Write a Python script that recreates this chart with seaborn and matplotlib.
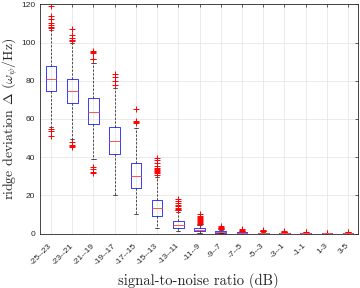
import numpy as np
import pandas as pd
import matplotlib
matplotlib.use("Agg")
import matplotlib.pyplot as plt
import seaborn as sns

# SNR bins (x categories)
snr_labels = ['-25--23', '-23--21', '-21--19', '-19--17', '-17--15', '-15--13',
              '-13--11', '-11--9', '-9--7', '-7--5', '-5--3', '-3--1',
              '-1-1', '1-3', '3-5']

# box summary
q1 = [74.6, 68.2, 57.4, 41.7, 23.7, 9.2, 2.8, 1.4, 0.5, 0.25, 0.15, 0.08, 0.05, 0.03, 0.02]
med = [81.1, 74.7, 63.7, 48.5, 30.3, 13.2, 4.4, 2.0, 0.8, 0.45, 0.3, 0.18, 0.12, 0.08, 0.06]
q3 = [87.7, 81.0, 70.9, 56.0, 37.2, 17.6, 6.4, 2.7, 1.2, 0.7, 0.5, 0.3, 0.2, 0.14, 0.1]
whisk_lo = [56.0, 49.5, 38.9, 20.3, 10.5, 2.8, 1.2, 0.3, 0.05, 0.0, 0.0, 0.0, 0.0, 0.0, 0.0]
whisk_hi = [106.5, 99.5, 89.5, 76.0, 55.5, 29.8, 11.5, 4.5, 2.1, 1.3, 0.95, 0.6, 0.4, 0.3, 0.2]
outliers = [
    [119, 114, 112.5, 110, 109, 108.2, 107.5, 54.6, 53.7, 51.2],
    [107, 103.7, 102.5, 101.4, 100.6, 48.1, 46.4, 45.6, 45.2],
    [95.6, 95, 94.3, 91.6, 91.3, 35, 33.6, 32.4, 31.5],
    [83.3, 81.9, 80.1, 78.0],
    [65.2, 59, 58.5, 57.9],
    [39.8, 38.5, 37, 35.5, 34.5, 34, 33.3, 32.8, 32.2, 31.5, 30.8],
    [18.2, 17, 16, 15, 14.2, 13.6, 13, 12.5, 12.1],
    [10, 9.3, 8.6, 8, 7.5, 7, 6.5, 6, 5.6, 5.2, 4.9],
    [3.9, 3.4, 3.0, 2.7, 2.5, 2.35],
    [2.2, 1.9, 1.6, 1.45],
    [1.8, 1.5, 1.2, 1.1],
    [1.2, 0.9, 0.75],
    [1.0, 0.7],
    [0.5, 0.4],
    [0.9, 0.6],
]

# build a long table whose quartiles/whiskers reproduce the summary
rows = []
for i, lab in enumerate(snr_labels):
    vals = [whisk_lo[i], whisk_hi[i]] + [q1[i]] * 50 + [med[i]] * 50 + [q3[i]] * 50 + outliers[i]
    rows += [(lab, v) for v in vals]
df = pd.DataFrame(rows, columns=['snr', 'dev'])

sns.set_style('white')
plt.rcParams['mathtext.fontset'] = 'cm'
plt.rcParams['font.family'] = ['Liberation Sans', 'DejaVu Sans']

fig = plt.figure(figsize=(3.6, 2.88), dpi=100)
ax = fig.add_axes([0.111, 0.189, 0.8825, 0.796])

sns.boxplot(data=df, x='snr', y='dev', order=snr_labels, ax=ax, width=0.5,
            fill=False, color='#3a3aff', linecolor='#3a3aff', whis=1.5, linewidth=0.7,
            boxprops=dict(color='#3a3aff'),
            medianprops=dict(color='#ff5050', linewidth=0.7),
            whiskerprops=dict(color='#202020', linestyle=(0, (3, 2)), linewidth=0.55),
            capprops=dict(color='#202020', linewidth=0.55),
            flierprops=dict(marker='+', markeredgecolor='red', markersize=5,
                            markeredgewidth=0.7),
            capwidths=0.2)

ax.set_ylim(0, 120)
ax.set_xlim(-0.52, 14.45)
ax.set_yticks(np.arange(0, 121, 20))
ax.grid(True, color='#e3e3e3', linewidth=0.5)
ax.set_axisbelow(True)

for s in ax.spines.values():
    s.set_color('#262626')
    s.set_linewidth(0.6)
ax.tick_params(direction='in', length=2.5, width=0.5, colors='#262626',
               labelsize=6, top=True, right=True)
ax.tick_params(axis='x', pad=8)
plt.setp(ax.get_xticklabels(), rotation=45, ha='right', va='center',
         rotation_mode='anchor')

ax.set_xlabel('signal-to-noise ratio (dB)', fontfamily='cmr10', fontsize=10.5)
ax.xaxis.set_label_coords(0.5, -0.172)
ax.set_ylabel(r'ridge deviation $\Delta$ $(\omega_\psi/\mathrm{Hz})$',
              fontfamily='cmr10', fontsize=10)
ax.yaxis.set_label_coords(-0.062, 0.5)

fig.savefig('out.png', dpi=100)
